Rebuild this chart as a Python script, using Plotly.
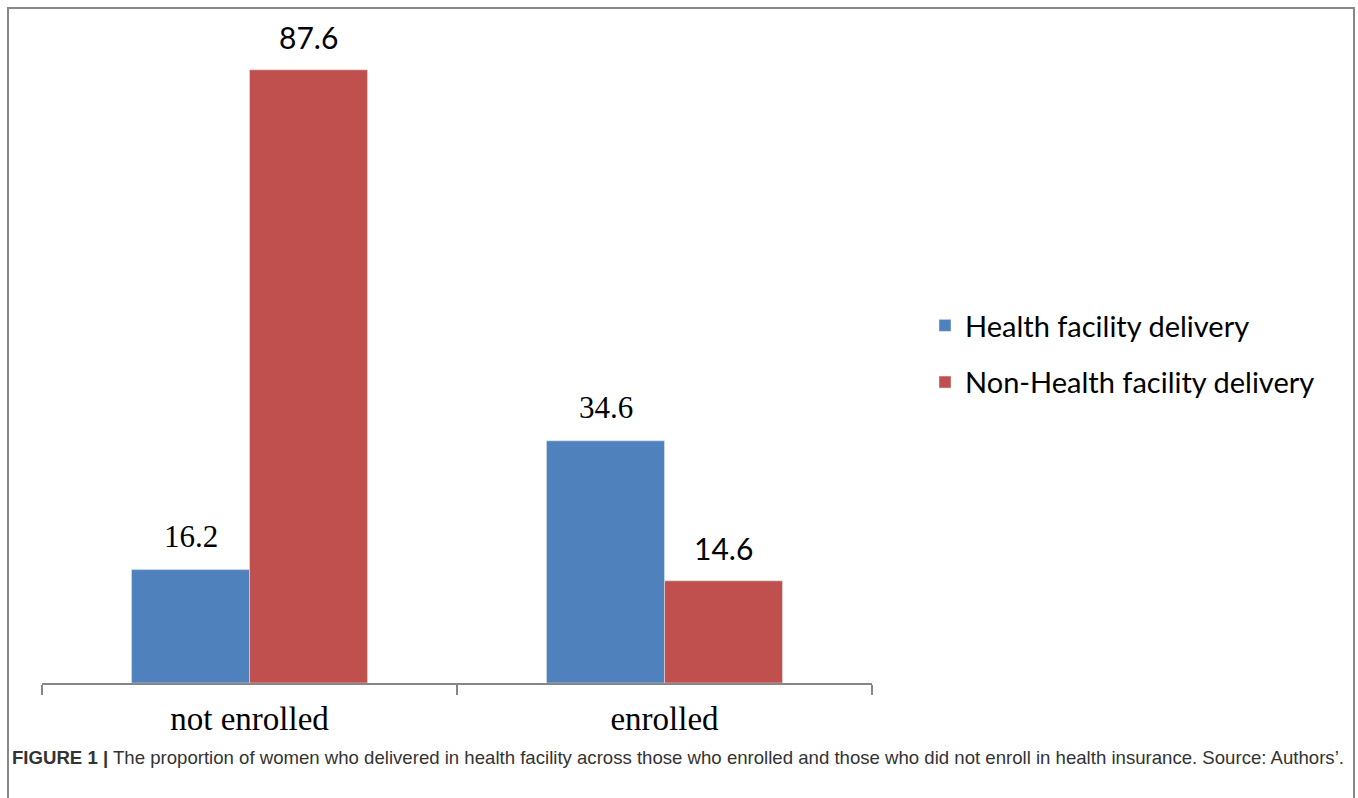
import plotly.graph_objects as go

categories = ["not enrolled", "enrolled"]
series_names = ["Health facility delivery", "Non-Health facility delivery"]
health_facility = [16.2, 34.6]
non_health_facility = [87.6, 14.6]
colors = ["#4F81BD", "#C0504D"]
caption = ("<b>FIGURE 1 |</b> The proportion of women who delivered in health facility across those "
           "who enrolled and those who did not enroll in health insurance. Source: Authors’.")

W, H = 1358, 798
L, R, T, B = 42, 872, 20, 683  # plot area pixel bounds


def px_x(p):
    return (p - L) / (R - L)


def px_y(p):
    return (B - p) / (B - T)


fig = go.Figure()
fig.add_trace(go.Bar(x=categories, y=health_facility, name=series_names[0],
                     marker_color=colors[0], legendgroup="a"))
fig.add_trace(go.Bar(x=categories, y=non_health_facility, name=series_names[1],
                     marker_color=colors[1], legendgroup="b"))

annotations = []
label_fonts = [dict(family="Liberation Serif", size=31, color="#000"),
               dict(family="Lato", size=30, color="#000")]
for si, vals in enumerate([health_facility, non_health_facility]):
    shift = -59 if si == 0 else 59
    for c, v in zip(categories, vals):
        annotations.append(dict(x=c, y=v, xref="x", yref="y", text=f"{v}", showarrow=False,
                                xshift=shift, yanchor="middle", yshift=33, font=label_fonts[si]))

annotations.append(dict(x=px_x(10), y=px_y(757), xref="paper", yref="paper", text=caption,
                        showarrow=False, xanchor="left", yanchor="middle",
                        font=dict(family="Liberation Sans", size=18.6, color="#333")))

fig.update_layout(
    width=W, height=H,
    margin=dict(l=L, r=W - R, t=T, b=H - B, pad=0),
    paper_bgcolor="white", plot_bgcolor="white",
    barmode="group", bargap=0.4313, bargroupgap=0,
    annotations=annotations,
    showlegend=True,
    legend=dict(x=px_x(925), y=px_y(354), xanchor="left", yanchor="middle",
                font=dict(family="Lato", size=29, color="#000"),
                tracegroupgap=16, bgcolor="rgba(0,0,0,0)"),
    xaxis=dict(type="category", range=[-0.5, 1.5], showline=True, linecolor="#868686",
               linewidth=2, ticks="outside", tickson="boundaries", ticklen=10,
               tickcolor="#868686", tickwidth=2, showgrid=False, ticklabelstandoff=5,
               tickfont=dict(family="Liberation Serif", size=33, color="#000")),
    yaxis=dict(visible=False, range=[0, (B - T) / 7.0], showgrid=False, zeroline=False),
    shapes=[dict(type="rect", xref="paper", yref="paper",
                 x0=px_x(8), x1=px_x(1354), y0=px_y(810), y1=px_y(8),
                 line=dict(color="#888888", width=2), fillcolor="rgba(0,0,0,0)")],
)

fig.write_html("out.html")
